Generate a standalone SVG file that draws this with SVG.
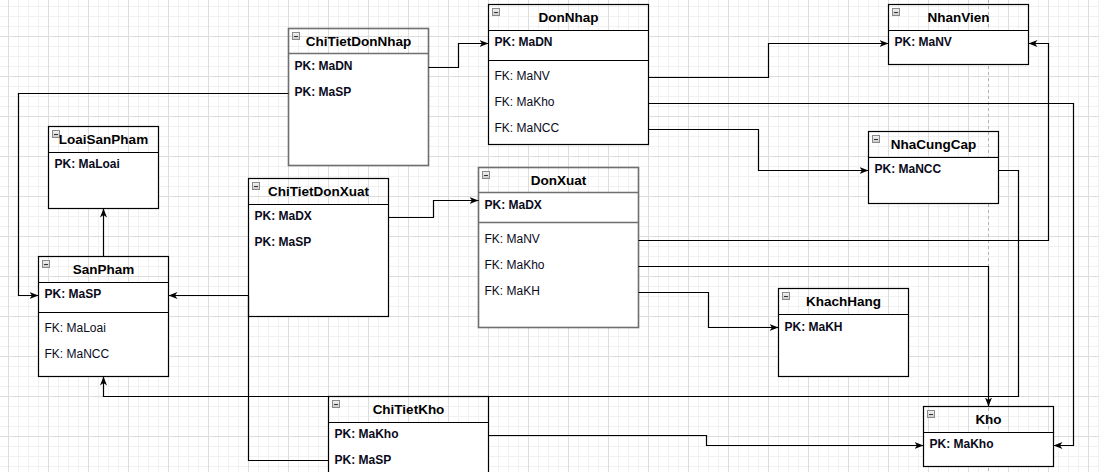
<svg xmlns="http://www.w3.org/2000/svg" xmlns:xlink="http://www.w3.org/1999/xlink" width="1099" height="472" viewBox="0 0 1099 472">
<style>
.box{fill:none;stroke:#000;stroke-width:1.2}
.gbox{fill:none;stroke:#6f6f6f;stroke-width:1.6}
.body{fill:#fff;stroke:none}
.sep{stroke:#000;stroke-width:1.2;fill:none}
.gsep{stroke:#6f6f6f;stroke-width:1.6;fill:none}
.title{font-family:"Liberation Sans",Arial,sans-serif;font-size:13.5px;font-weight:bold;fill:#000;text-anchor:middle}
.pk{font-family:"Liberation Sans",Arial,sans-serif;font-size:12px;font-weight:bold;fill:#0a0a1a}
.fk{font-family:"Liberation Sans",Arial,sans-serif;font-size:12px;fill:#0a0a1a}
.conn path{fill:none;stroke:#000;stroke-width:1.2}
.conn path.a{marker-end:url(#arr)}
</style>
<defs>
<pattern id="grid" patternUnits="userSpaceOnUse" x="8" y="-4" width="40" height="40">
<path d="M10.5,0V40M20.5,0V40M30.5,0V40M0,10.5H40M0,20.5H40M0,30.5H40" stroke="#f1f1f1" stroke-width="1" fill="none"/>
<path d="M0.5,0V40M0,0.5H40" stroke="#dddddd" stroke-width="1" fill="none"/>
</pattern>
<linearGradient id="ig" x1="0" y1="0" x2="0" y2="1"><stop offset="0" stop-color="#f4f4f4"/><stop offset="1" stop-color="#c8c8c8"/></linearGradient>
<g id="icon"><rect x="0.5" y="0.5" width="7" height="7" fill="url(#ig)" stroke="#8a8a8a" stroke-width="1"/><path d="M2,4.5H6" stroke="#333" stroke-width="1"/></g>
<marker id="arr" markerUnits="userSpaceOnUse" markerWidth="10" markerHeight="8" refX="9" refY="3.5" orient="auto"><path d="M0,0L9,3.5L0,7L2.5,3.5Z" fill="#000"/></marker>
</defs>
<rect width="1099" height="472" fill="#fff"/>
<rect width="1099" height="472" fill="url(#grid)"/>
<path d="M988.5,0V472" stroke="#b4b4b4" stroke-width="1" stroke-dasharray="3,3" fill="none"/>

<g id="ChiTietDonNhap">
<rect class="body" x="288.5" y="53.5" width="140" height="112"/>
<rect class="gbox" x="288.5" y="28.5" width="140" height="137"/>
<path class="gsep" d="M288.5,53.5H428.5"/>
<use xlink:href="#icon" x="292" y="32"/>
<text class="title" x="358.5" y="46">ChiTietDonNhap</text>
<text class="pk" x="294.5" y="69.5">PK: MaDN</text>
<text class="pk" x="294.5" y="95.5">PK: MaSP</text>
</g>

<g id="DonNhap">
<rect class="body" x="488.5" y="30.5" width="160" height="114"/>
<rect class="box" x="488.5" y="4.5" width="160" height="140"/>
<path class="sep" d="M488.5,30.5H648.5M488.5,60.5H648.5"/>
<use xlink:href="#icon" x="492" y="8"/>
<text class="title" x="568.5" y="22">DonNhap</text>
<text class="pk" x="494.5" y="46">PK: MaDN</text>
<text class="fk" x="494.5" y="80">FK: MaNV</text>
<text class="fk" x="494.5" y="106">FK: MaKho</text>
<text class="fk" x="494.5" y="131.5">FK: MaNCC</text>
</g>

<g id="NhanVien">
<rect class="body" x="888.5" y="30.5" width="140" height="34"/>
<rect class="box" x="888.5" y="4.5" width="140" height="60"/>
<path class="sep" d="M888.5,30.5H1028.5"/>
<use xlink:href="#icon" x="892" y="8"/>
<text class="title" x="958.5" y="22">NhanVien</text>
<text class="pk" x="894.5" y="46">PK: MaNV</text>
</g>

<g id="NhaCungCap">
<rect class="body" x="868.5" y="157.5" width="130" height="46"/>
<rect class="box" x="868.5" y="131.5" width="130" height="72"/>
<path class="sep" d="M868.5,157.5H998.5"/>
<use xlink:href="#icon" x="872" y="135"/>
<text class="title" x="933.5" y="149">NhaCungCap</text>
<text class="pk" x="874.5" y="173">PK: MaNCC</text>
</g>

<g id="LoaiSanPham">
<rect class="body" x="48.5" y="152.5" width="110" height="56"/>
<rect class="box" x="48.5" y="126.5" width="110" height="82"/>
<path class="sep" d="M48.5,152.5H158.5"/>
<use xlink:href="#icon" x="52" y="130"/>
<text class="title" x="103.5" y="144">LoaiSanPham</text>
<text class="pk" x="54.5" y="167.5">PK: MaLoai</text>
</g>

<g id="ChiTietDonXuat">
<rect class="body" x="248.5" y="204.5" width="140" height="112"/>
<rect class="box" x="248.5" y="178.5" width="140" height="138"/>
<path class="sep" d="M248.5,204.5H388.5"/>
<use xlink:href="#icon" x="252" y="182"/>
<text class="title" x="318.5" y="196">ChiTietDonXuat</text>
<text class="pk" x="254.5" y="219.5">PK: MaDX</text>
<text class="pk" x="254.5" y="245.5">PK: MaSP</text>
</g>

<g id="DonXuat">
<rect class="body" x="478.5" y="192.5" width="160" height="135"/>
<rect class="gbox" x="478.5" y="167.5" width="160" height="160"/>
<path class="gsep" d="M478.5,192.5H638.5M478.5,222.5H638.5"/>
<use xlink:href="#icon" x="482" y="171"/>
<text class="title" x="558.5" y="185">DonXuat</text>
<text class="pk" x="484.5" y="208.5">PK: MaDX</text>
<text class="fk" x="484.5" y="243">FK: MaNV</text>
<text class="fk" x="484.5" y="268.5">FK: MaKho</text>
<text class="fk" x="484.5" y="294.5">FK: MaKH</text>
</g>

<g id="KhachHang">
<rect class="body" x="778.5" y="314.5" width="130" height="62"/>
<rect class="box" x="778.5" y="288.5" width="130" height="88"/>
<path class="sep" d="M778.5,314.5H908.5"/>
<use xlink:href="#icon" x="782" y="292"/>
<text class="title" x="843.5" y="306">KhachHang</text>
<text class="pk" x="784.5" y="330.5">PK: MaKH</text>
</g>

<g id="SanPham">
<rect class="body" x="38.5" y="282.5" width="130" height="94"/>
<rect class="box" x="38.5" y="256.5" width="130" height="120"/>
<path class="sep" d="M38.5,282.5H168.5M38.5,312.5H168.5"/>
<use xlink:href="#icon" x="42" y="260"/>
<text class="title" x="103.5" y="274">SanPham</text>
<text class="pk" x="44.5" y="297.5">PK: MaSP</text>
<text class="fk" x="44.5" y="332">FK: MaLoai</text>
<text class="fk" x="44.5" y="358">FK: MaNCC</text>
</g>

<g id="ChiTietKho">
<rect class="body" x="328.5" y="422.5" width="160" height="60"/>
<rect class="box" x="328.5" y="396.5" width="160" height="86"/>
<path class="sep" d="M328.5,422.5H488.5"/>
<use xlink:href="#icon" x="332" y="400"/>
<text class="title" x="408.5" y="414">ChiTietKho</text>
<text class="pk" x="334.5" y="437.5">PK: MaKho</text>
<text class="pk" x="334.5" y="463.5">PK: MaSP</text>
</g>

<g id="Kho">
<rect class="body" x="923.5" y="432.5" width="130" height="34"/>
<rect class="box" x="923.5" y="406.5" width="130" height="60"/>
<path class="sep" d="M923.5,432.5H1053.5"/>
<use xlink:href="#icon" x="927" y="410"/>
<text class="title" x="988.5" y="424">Kho</text>
<text class="pk" x="929.5" y="448">PK: MaKho</text>
</g>

<g id="connectors" class="conn">
<path class="a" d="M428.5,67.5H458.5V43.5H488.5"/>
<path class="a" d="M288.5,93.5H18.5V295.5H38.5"/>
<path class="a" d="M648.5,77.5H768.5V43.5H888.5"/>
<path class="a" d="M648.5,103.5H1073.5V445.5H1053.5"/>
<path class="a" d="M648.5,129.5H758.5V170.5H868.5"/>
<path class="a" d="M998.5,170.5H1018.5V396.5H103.5V376.5"/>
<path class="a" d="M103.5,256.5V208.5"/>
<path class="a" d="M388.5,217.5H433.5V200.5H478.5"/>
<path class="a" d="M248.5,295.5H168.5"/>
<path class="a" d="M638.5,240.5H1048.5V43.5H1028.5"/>
<path class="a" d="M638.5,266.5H988.5V406.5"/>
<path class="a" d="M638.5,292.5H708.5V327.5H778.5"/>
<path d="M328.5,460.5H248.5V295.5"/>
<path class="a" d="M488.5,435.5H706.5V445.5H923.5"/>
</g>
</svg>
